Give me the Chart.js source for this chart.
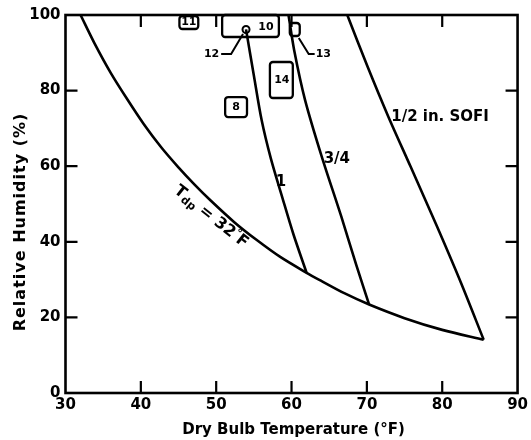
<!DOCTYPE html>
<html>
<head>
    <title>Relative Humidity vs Dry Bulb Temperature</title>
    <script src="https://cdn.jsdelivr.net/npm/chart.js"></script>
    <style>
        body { margin: 0; background: #fff; }
    </style>
</head>
<body>
    <canvas id="frostChart" width="531" height="440"></canvas>

    <script>
        // axis ticks
        const tempTicks = [30, 40, 50, 60, 70, 80, 90];
        const rhTicks = [0, 20, 40, 60, 80, 100];

        // Tdp = 32 F boundary
        const dewTemp = [32, 33.8, 36, 38.2, 40.4, 42.7, 44.9, 47.1, 49.3, 52.4, 55.3, 58.5, 62.0, 64, 67, 70.3, 75, 80, 85.5];
        const dewRH = [100, 92.7, 84.7, 77.7, 71.1, 65.0, 59.9, 55.2, 50.85, 45.2, 40.6, 36.0, 31.8, 29.6, 26.4, 23.4, 19.8, 16.7, 14.1];

        // insulation thickness lines
        const oneTemp = [53.96, 55.0, 56.03, 57.26, 58.75, 60.25, 62.0];
        const oneRH = [96.2, 84, 72.2, 62, 51.9, 42, 31.8];
        const threeQTemp = [59.6, 60.35, 61.8, 64.0, 66.6, 68.6, 70.3];
        const threeQRH = [100, 90.7, 77.5, 62.6, 46.7, 33.8, 23.4];
        const halfTemp = [67.4, 70.1, 72.85, 75.8, 79.3, 82.5, 85.5];
        const halfRH = [100, 86.3, 73.1, 59.9, 44.1, 29.1, 14.1];

        // boxed test points
        const boxTempLo = [45.12, 50.79, 59.77, 57.13, 51.19];
        const boxTempHi = [47.62, 58.32, 61.09, 60.17, 54.09];
        const boxRHLo = [96.3, 94.18, 94.44, 78.04, 73.0];
        const boxRHHi = [99.74, 100, 97.88, 87.57, 78.3];

        // test numbers
        const numText = ['11', '10', '14', '8', '12', '13'];
        const numTemp = [46.37, 56.6, 58.71, 52.64, 50.4, 63.2];
        const numRH = [98.0, 96.8, 82.8, 75.66, 89.6, 89.6];
        const numAlign = ['center', 'center', 'center', 'center', 'right', 'left'];

        // point 12 and leaders
        const ring12 = [53.96, 96.16];
        const leader12Temp = [53.56, 51.98, 50.66];
        const leader12RH = [94.97, 89.68, 89.68];
        const leader13Temp = [60.96, 62.28, 63.07];
        const leader13RH = [93.92, 89.68, 89.68];

        // curve labels
        const curveText = ['1', '3/4', '1/2 in. SOFI'];
        const curveTemp = [58.6, 64.26, 73.23];
        const curveRH = [55.9, 61.9, 73.1];
        const dewLabel = [49.3, 46.6];

        const FONT = '"DejaVu Sans", sans-serif';

        function curve(xs, ys) {
            return {
                data: xs.map((x, i) => ({ x: x, y: ys[i] })),
                showLine: true,
                borderColor: '#000',
                borderWidth: 2.6,
                pointRadius: 0,
                tension: 0.3,
                fill: false
            };
        }

        const decor = {
            id: 'decor',
            afterDatasetsDraw(chart) {
                const { ctx, chartArea: a, scales: { x, y } } = chart;
                const px = v => x.getPixelForValue(v);
                const py = v => y.getPixelForValue(v);
                ctx.save();
                ctx.strokeStyle = '#000';
                ctx.fillStyle = '#000';

                // frame
                ctx.lineWidth = 2.6;
                ctx.strokeRect(a.left, a.top, a.right - a.left, a.bottom - a.top);

                // inward ticks on all sides
                ctx.lineWidth = 2.2;
                ctx.beginPath();
                tempTicks.slice(1, -1).forEach(v => {
                    ctx.moveTo(px(v), a.bottom); ctx.lineTo(px(v), a.bottom - 12);
                    ctx.moveTo(px(v), a.top); ctx.lineTo(px(v), a.top + 12);
                });
                rhTicks.slice(1, -1).forEach(v => {
                    ctx.moveTo(a.left, py(v)); ctx.lineTo(a.left + 12, py(v));
                    ctx.moveTo(a.right, py(v)); ctx.lineTo(a.right - 12, py(v));
                });
                ctx.stroke();

                // boxes
                ctx.lineWidth = 2.3;
                boxTempLo.forEach((t, i) => {
                    const x0 = px(t), x1 = px(boxTempHi[i]);
                    const y0 = py(boxRHHi[i]), y1 = py(boxRHLo[i]);
                    ctx.beginPath();
                    ctx.roundRect(x0, y0, x1 - x0, y1 - y0, 3);
                    ctx.stroke();
                });

                // ring for 12 and leader lines
                ctx.lineWidth = 2;
                ctx.beginPath();
                ctx.arc(px(ring12[0]), py(ring12[1]), 3.5, 0, Math.PI * 2);
                ctx.stroke();
                [[leader12Temp, leader12RH], [leader13Temp, leader13RH]].forEach(([lx, ly]) => {
                    ctx.beginPath();
                    lx.forEach((t, i) => i ? ctx.lineTo(px(t), py(ly[i])) : ctx.moveTo(px(t), py(ly[i])));
                    ctx.stroke();
                });

                // numbers
                ctx.font = 'bold 11px ' + FONT;
                ctx.textBaseline = 'middle';
                numText.forEach((s, i) => {
                    ctx.textAlign = numAlign[i];
                    ctx.fillText(s, px(numTemp[i]), py(numRH[i]));
                });

                // curve labels
                ctx.font = 'bold 15px ' + FONT;
                curveText.forEach((s, i) => {
                    ctx.textAlign = i === 0 ? 'center' : 'left';
                    ctx.fillText(s, px(curveTemp[i]), py(curveRH[i]));
                });

                // Tdp = 32 F along the curve
                ctx.save();
                ctx.translate(px(dewLabel[0]), py(dewLabel[1]));
                ctx.rotate(38.5 * Math.PI / 180);
                const parts = [['T', 16, 0], ['dp', 11, 4], [' = 32', 16, 0], ['°', 11, -4], ['F', 16, 0]];
                let total = 0;
                parts.forEach(p => { ctx.font = 'bold ' + p[1] + 'px ' + FONT; total += ctx.measureText(p[0]).width; });
                let cx = -total / 2;
                ctx.textAlign = 'left';
                parts.forEach(p => {
                    ctx.font = 'bold ' + p[1] + 'px ' + FONT;
                    ctx.fillText(p[0], cx, p[2]);
                    cx += ctx.measureText(p[0]).width;
                });
                ctx.restore();

                // axis titles
                ctx.textAlign = 'center';
                ctx.font = 'bold 15px ' + FONT;
                ctx.fillText('Dry Bulb Temperature (°F)', (a.left + a.right) / 2 + 2, 430);
                ctx.save();
                ctx.translate(21, 222);
                ctx.rotate(-Math.PI / 2);
                ctx.font = 'bold 16px ' + FONT;
                ctx.letterSpacing = '1px';
                ctx.fillText('Relative Humidity (%)', 0, 0);
                ctx.restore();

                ctx.restore();
            }
        };

        const tickFont = { family: FONT, size: 15, weight: 'bold' };

        new Chart(document.getElementById('frostChart').getContext('2d'), {
            type: 'scatter',
            data: {
                datasets: [
                    curve(dewTemp, dewRH),
                    curve(oneTemp, oneRH),
                    curve(threeQTemp, threeQRH),
                    curve(halfTemp, halfRH)
                ]
            },
            options: {
                responsive: false,
                animation: false,
                layout: { padding: { top: 15, right: 11, left: 0, bottom: 0 } },
                plugins: {
                    legend: { display: false },
                    tooltip: { enabled: false }
                },
                scales: {
                    x: {
                        type: 'linear',
                        min: 30,
                        max: 90,
                        afterFit(s) { s.height = 47; },
                        afterBuildTicks(s) { s.ticks = tempTicks.map(v => ({ value: v })); },
                        grid: { display: false, drawTicks: false },
                        border: { display: false },
                        ticks: { color: '#000', font: tickFont, padding: 3, maxRotation: 0, autoSkip: false }
                    },
                    y: {
                        min: 0,
                        max: 100,
                        afterFit(s) { s.width = 65.5; },
                        afterBuildTicks(s) { s.ticks = rhTicks.map(v => ({ value: v })); },
                        grid: { display: false, drawTicks: false },
                        border: { display: false },
                        ticks: { color: '#000', font: tickFont, padding: 5, autoSkip: false }
                    }
                }
            },
            plugins: [decor]
        });
    </script>
</body>
</html>
